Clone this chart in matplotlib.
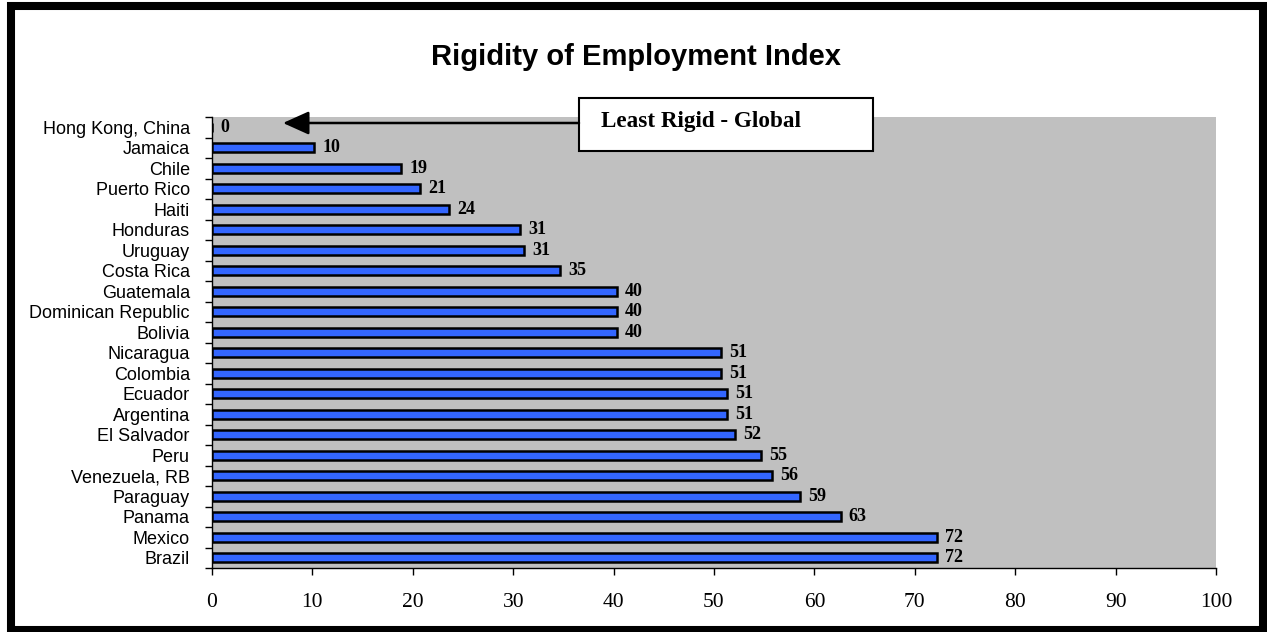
import numpy as np
import matplotlib
matplotlib.use("Agg")
import matplotlib.pyplot as plt
from matplotlib.patches import Rectangle

# rigidity of employment index, listed top to bottom
countries = ['Hong Kong, China', 'Jamaica', 'Chile', 'Puerto Rico', 'Haiti',
             'Honduras', 'Uruguay', 'Costa Rica', 'Guatemala',
             'Dominican Republic', 'Bolivia', 'Nicaragua', 'Colombia',
             'Ecuador', 'Argentina', 'El Salvador', 'Peru', 'Venezuela, RB',
             'Paraguay', 'Panama', 'Mexico', 'Brazil']
index_vals = [0, 10.2, 18.8, 20.7, 23.6, 30.7, 31.1, 34.7, 40.3, 40.3, 40.3,
              50.7, 50.7, 51.3, 51.3, 52.1, 54.7, 55.8, 58.6, 62.6, 72.2, 72.2]
xticks = list(range(0, 101, 10))

sans = ['Liberation Sans', 'DejaVu Sans']
serif = ['Liberation Serif', 'DejaVu Serif']

W, H = 1267, 632
fig = plt.figure(figsize=(W / 100, H / 100), dpi=100)
fig.patch.set_facecolor('white')
ax = fig.add_axes([212 / W, 1 - 568 / H, 1004 / W, 451 / H])
ax.set_facecolor('#C0C0C0')

y = np.arange(len(countries))
ax.barh(y, index_vals, height=0.44, color='#3366FF', edgecolor='black',
        linewidth=1.8, zorder=3)

for yi, v in zip(y, index_vals):
    ax.annotate('%.0f' % v, xy=(v, yi), xytext=(6, 0), textcoords='offset points',
                ha='left', va='center', fontsize=13, fontweight='bold',
                family=serif, zorder=4)

ax.set_xlim(0, 100)
ax.set_ylim(len(countries) - 0.5, -0.5)

ax.set_xticks(xticks)
ax.set_xticklabels([str(t) for t in xticks], family=serif, fontsize=15.5)
ax.tick_params(axis='x', direction='out', length=5, width=1, pad=13,
               colors='black')

ax.set_yticks(y)
ax.set_yticklabels(countries, family=sans, fontsize=13)
ax.set_yticks(np.arange(-0.5, len(countries), 1), minor=True)
ax.tick_params(axis='y', which='major', length=0, pad=16)
ax.tick_params(axis='y', which='minor', direction='out', length=5, width=1)

for side in ['top', 'right']:
    ax.spines[side].set_visible(False)
ax.spines['left'].set_linewidth(1)
ax.spines['bottom'].set_linewidth(1)

fig.text(636 / W, 1 - 57 / H, 'Rigidity of Employment Index', ha='center',
         va='center', fontsize=21, fontweight='bold', family=sans)

# callout box with arrow pointing at the least rigid economy
fig.add_artist(Rectangle((579 / W, 1 - 151 / H), 294 / W, 53 / H,
                         transform=fig.transFigure, facecolor='white',
                         edgecolor='black', linewidth=1.5, zorder=5))
fig.text(601 / W, 1 - 122 / H, 'Least Rigid - Global', ha='left',
         va='center', fontsize=16.7, fontweight='bold', family=serif, zorder=6)
fig.add_artist(plt.Annotation(
    '', xy=(283 / W, 1 - 123 / H), xycoords='figure fraction',
    xytext=(579 / W, 1 - 123 / H), textcoords='figure fraction',
    arrowprops=dict(arrowstyle='-|>,head_length=1.6,head_width=0.72',
                    color='black', lw=1.8, shrinkA=0, shrinkB=0),
    zorder=5))

# heavy border around the whole chart
fig.add_artist(Rectangle((10.5 / W, 2.5 / H), 1252 / W, 624 / H,
                         transform=fig.transFigure, fill=False,
                         edgecolor='black', linewidth=5.8))

fig.savefig('out.png', dpi=100)
